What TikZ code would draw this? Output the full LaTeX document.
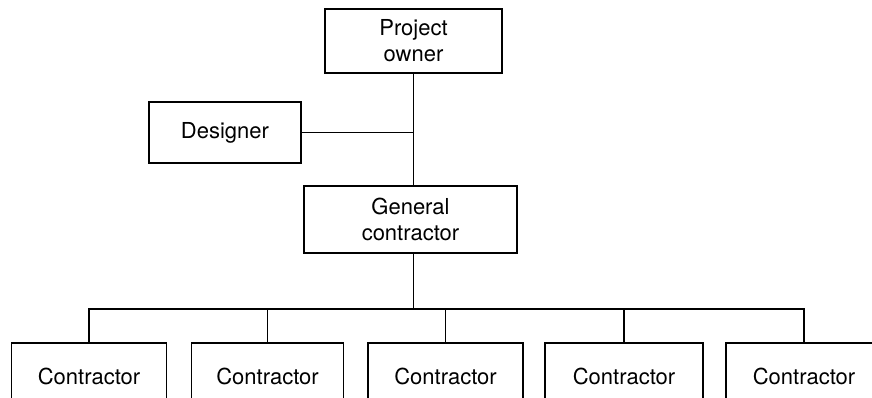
\documentclass[tikz,border=0pt]{standalone}
\usepackage{fontspec}
\setmainfont{TeX Gyre Heros}
\begin{document}
\begin{tikzpicture}[x=1pt,y=-1pt,
		box/.style={draw,line width=1.5pt,inner sep=0pt,align=center,font=\fontsize{22}{26}\selectfont},
		link/.style={line width=1.4pt}]
			\useasboundingbox (0,0) rectangle (872,398);
			\clip (0,0) rectangle (872,398);

			% Upper boxes
			\node[box,minimum width=177pt,minimum height=64pt] (owner) at (413.5,41) {Project\\owner};
			\node[box,minimum width=152pt,minimum height=61pt] (designer) at (225,132.5) {Designer};
			\node[box,minimum width=213pt,minimum height=67pt] (general) at (410.5,219.5) {General\\contractor};

			% Contractors
			\node[box,minimum width=155pt,minimum height=66pt] (c1) at (89,376) {Contractor};
			\node[box,minimum width=152pt,minimum height=66pt] (c2) at (267.5,376) {Contractor};
			\node[box,minimum width=155pt,minimum height=66pt] (c3) at (445.5,376) {Contractor};
			\node[box,minimum width=158pt,minimum height=66pt] (c4) at (624,376) {Contractor};
			\node[box,minimum width=156pt,minimum height=66pt] (c5) at (804,376) {Contractor};
			\coordinate (bus) at (0,309);

			% Draw edges
			\draw[link] (owner.south) -- (owner.south |- general.north);
			\draw[link] (designer.east) -- (designer.east -| owner.south);
			\draw[link] (owner.south |- general.south) -- (owner.south |- bus);
			\draw[link] (c1.north) -- (c1.north |- bus) -| (c5.north);
			\draw[link] (c2.north) -- (c2.north |- bus);
			\draw[link] (c3.north) -- (c3.north |- bus);
			\draw[link] (c4.north) -- (c4.north |- bus);
		\end{tikzpicture}
\end{document}
